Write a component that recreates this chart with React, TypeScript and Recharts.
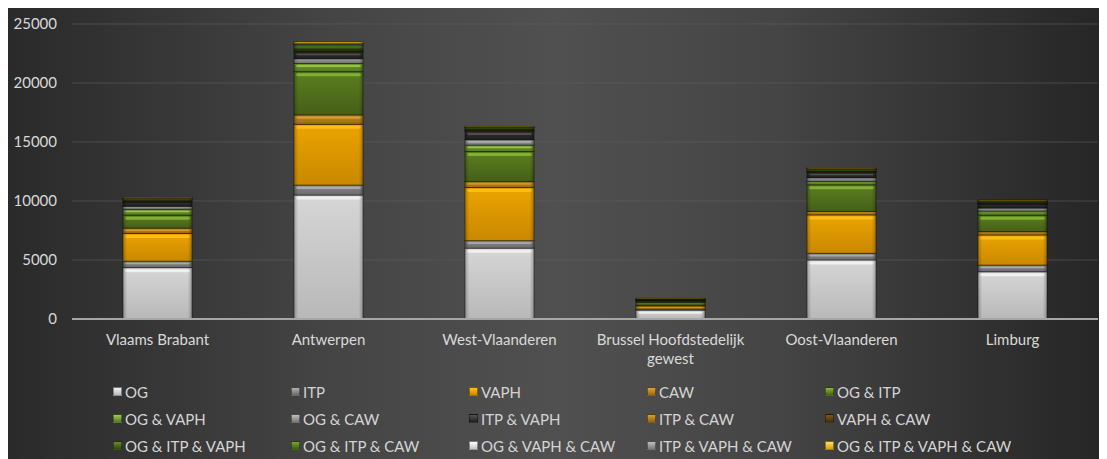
import React from 'react';
import { BarChart, Bar, XAxis, YAxis, CartesianGrid, Text } from 'recharts';

const categories = ['Vlaams Brabant', 'Antwerpen', 'West-Vlaanderen', 'Brussel Hoofdstedelijk gewest', 'Oost-Vlaanderen', 'Limburg'];
const yTicks = [0, 5000, 10000, 15000, 20000, 25000];

// stacked from bottom to top, in legend order
const seriesNames = [
  'OG', 'ITP', 'VAPH', 'CAW', 'OG & ITP',
  'OG & VAPH', 'OG & CAW', 'ITP & VAPH', 'ITP & CAW', 'VAPH & CAW',
  'OG & ITP & VAPH', 'OG & ITP & CAW', 'OG & VAPH & CAW', 'ITP & VAPH & CAW', 'OG & ITP & VAPH & CAW',
];

const og = [4350, 10500, 6000, 750, 5000, 4000];
const itp = [550, 850, 640, 100, 570, 570];
const vaph = [2350, 5150, 4500, 250, 3250, 2550];
const caw = [450, 790, 500, 60, 300, 280];
const ogItp = [1100, 3670, 2550, 250, 2250, 1400];
const ogVaph = [500, 700, 550, 60, 300, 350];
const ogCaw = [250, 400, 450, 40, 300, 250];
const itpVaph = [350, 550, 700, 80, 450, 350];
const itpCaw = [40, 60, 60, 20, 40, 30];
const vaphCaw = [30, 60, 50, 20, 30, 30];
const ogItpVaph = [60, 150, 80, 20, 60, 50];
const ogItpCaw = [150, 350, 120, 30, 150, 120];
const ogVaphCaw = [20, 50, 30, 10, 20, 20];
const itpVaphCaw = [20, 50, 30, 10, 20, 20];
const allFour = [80, 150, 60, 50, 80, 60];

const seriesValues = [og, itp, vaph, caw, ogItp, ogVaph, ogCaw, itpVaph, itpCaw, vaphCaw, ogItpVaph, ogItpCaw, ogVaphCaw, itpVaphCaw, allFour];

const colors = [
  ['#f4f4f4', '#d6d6d6', '#b8b8b8'],
  ['#b0b0b0', '#8a8a8a', '#6a6a6a'],
  ['#ffc21a', '#eba400', '#c98800'],
  ['#dca040', '#c48a1c', '#9a6a10'],
  ['#8ab83a', '#5b7f1f', '#465f18'],
  ['#9fcc50', '#6f9a2a', '#557820'],
  ['#c0c0c0', '#9a9a9a', '#777777'],
  ['#555555', '#303030', '#1e1e1e'],
  ['#d8a030', '#b88418', '#8c6410'],
  ['#7a5a1c', '#5c4212', '#42300c'],
  ['#6a8a2a', '#44621a', '#334a12'],
  ['#7aa632', '#4f7a1c', '#3c5c14'],
  ['#ffffff', '#e6e6e6', '#c4c4c4'],
  ['#c0c0c0', '#9c9c9c', '#7a7a7a'],
  ['#ffe066', '#ffc400', '#d9a000'],
];

const data = categories.map((name, i) => {
  const row: Record<string, string | number> = { name };
  seriesNames.forEach((s, j) => {
    row[s] = seriesValues[j][i];
  });
  return row;
});

const font = 'Lato, "Open Sans", sans-serif';

function bevelShape(idx: number) {
  return (props: any) => {
    const { x, y, width, height } = props;
    if (!height || height <= 0) return <g />;
    return (
      <g>
        <rect x={x} y={y} width={width} height={height} fill={`url(#g${idx})`} stroke="rgba(0,0,0,0.45)" strokeWidth={1} />
        {height > 5 && (
          <rect x={x + 2} y={y + 1.5} width={width - 4} height={Math.min(3, height / 4)} fill={colors[idx][0]} opacity={0.85} rx={1.5} />
        )}
        <rect x={x} y={y} width={width} height={height} fill="url(#side)" />
      </g>
    );
  };
}

function CategoryTick(props: any) {
  const { x, y, payload } = props;
  return (
    <Text x={x} y={y} width={180} textAnchor="middle" verticalAnchor="start" lineHeight="19px" fill="#d9d9d9" fontSize={15} fontFamily={font}>
      {payload.value}
    </Text>
  );
}

export default function App() {
  return (
    <div
      style={{
        width: 1092,
        height: 451,
        background: 'linear-gradient(90deg, #2a2a2a 0%, #454545 30%, #505050 50%, #454545 70%, #262626 100%)',
        fontFamily: font,
        position: 'relative',
      }}
    >
      <BarChart width={1092} height={370} data={data} margin={{ top: 16, right: 2, left: 0, bottom: 9 }}>
        <defs>
          {colors.map((c, i) => (
            <linearGradient key={i} id={`g${i}`} x1="0" y1="0" x2="0" y2="1">
              <stop offset="0%" stopColor={c[1]} />
              <stop offset="100%" stopColor={c[2]} />
            </linearGradient>
          ))}
          <linearGradient id="side" x1="0" y1="0" x2="1" y2="0">
            <stop offset="0%" stopColor="#000" stopOpacity={0.25} />
            <stop offset="6%" stopColor="#000" stopOpacity={0} />
            <stop offset="94%" stopColor="#000" stopOpacity={0} />
            <stop offset="100%" stopColor="#000" stopOpacity={0.25} />
          </linearGradient>
        </defs>
        <CartesianGrid vertical={false} stroke="#5e5e5e" strokeOpacity={0.6} />
        <XAxis
          dataKey="name"
          axisLine={{ stroke: '#a6a6a6', strokeWidth: 2 }}
          tickLine={false}
          tickSize={0}
          tickMargin={15}
          height={50}
          interval={0}
          tick={<CategoryTick />}
        />
        <YAxis
          width={64}
          domain={[0, 25000]}
          ticks={yTicks}
          axisLine={false}
          tickLine={false}
          tickSize={0}
          tickMargin={15}
          tick={{ fill: '#d9d9d9', fontSize: 15, fontFamily: font }}
        />
        {seriesNames.map((s, i) => (
          <Bar key={s} dataKey={s} stackId="a" barSize={69} fill={colors[i][1]} shape={bevelShape(i)} isAnimationActive={false} />
        ))}
      </BarChart>
      <div
        style={{
          position: 'absolute',
          left: 105,
          top: 370,
          display: 'grid',
          gridTemplateColumns: 'repeat(5, 178px)',
          gridAutoRows: '27px',
          color: '#d4d4d4',
          fontSize: 15,
        }}
      >
        {seriesNames.map((s, i) => (
          <div key={s} style={{ display: 'flex', alignItems: 'center', whiteSpace: 'nowrap' }}>
            <span
              style={{
                display: 'inline-block',
                flexShrink: 0,
                width: 7,
                height: 7,
                marginRight: 3,
                background: `linear-gradient(180deg, ${colors[i][0]}, ${colors[i][2]})`,
                border: '1px solid rgba(0,0,0,0.4)',
              }}
            />
            {s}
          </div>
        ))}
      </div>
    </div>
  );
}
